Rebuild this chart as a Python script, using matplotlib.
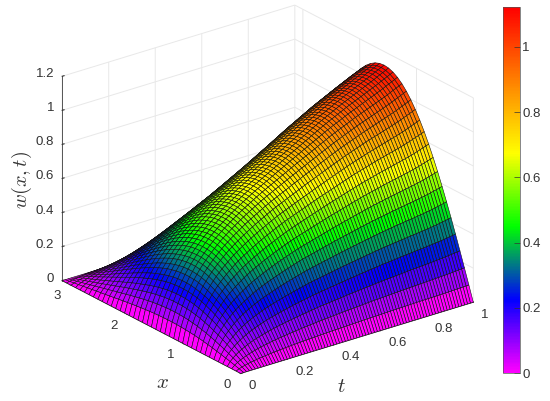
import numpy as np
import matplotlib
matplotlib.use('Agg')
import matplotlib.pyplot as plt
from matplotlib.colors import LinearSegmentedColormap, Normalize
from matplotlib.cm import ScalarMappable
from mpl_toolkits.mplot3d import proj3d

plt.rcParams['font.family'] = ['Liberation Sans', 'DejaVu Sans']
plt.rcParams['mathtext.fontset'] = 'cm'

# surface heights are estimated from the picture as two x shapes times two t curves,
# 41 mesh points from 0 to pi across x and 81 from 0 to 1 across t
x_main = [0, .0785, .1564, .2334, .3090, .3827, .4540, .5225, .5878, .6494, .7071,
          .7604, .8090, .8526, .8910, .9239, .9511, .9724, .9877, .9969, 1,
          .9969, .9877, .9724, .9511, .9239, .8910, .8526, .8090, .7604, .7071,
          .6494, .5878, .5225, .4540, .3827, .3090, .2334, .1564, .0785, 0]
x_skew = [0, .1564, .3090, .4540, .5878, .7071, .8090, .8910, .9511, .9877, 1,
          .9877, .9511, .8910, .8090, .7071, .5878, .4540, .3090, .1564, 0,
          -.1564, -.3090, -.4540, -.5878, -.7071, -.8090, -.8910, -.9511, -.9877, -1,
          -.9877, -.9511, -.8910, -.8090, -.7071, -.5878, -.4540, -.3090, -.1564, 0]
t_main = [0, .075, .125, .168, .205, .24, .27, .30, .325, .35, .372, .393, .413, .431, .449, .466,
          .482, .497, .512, .526, .54, .553, .566, .579, .591, .603, .614, .625, .636, .647,
          .658, .668, .678, .688, .698, .708, .718, .728, .738, .748, .758, .768, .778, .788,
          .798, .808, .818, .828, .838, .848, .858, .868, .878, .888, .898, .908, .918, .927,
          .936, .945, .954, .963, .972, .981, .99, .998, 1.006, 1.014, 1.022, 1.03, 1.038,
          1.046, 1.054, 1.062, 1.07, 1.078, 1.087, 1.095, 1.103, 1.111, 1.12]
t_skew = [0, .012, .022, .03, .036, .04, .044, .047, .05, .052, .054, .055, .056, .057, .058, .059,
          .06, .06, .06, .06, .06, .06, .06, .06, .06, .06, .06, .06, .06, .06, .06, .06, .06,
          .059, .058, .057, .056, .055, .054, .053, .052, .051, .05, .049, .048, .046, .045,
          .043, .042, .04, .039, .037, .036, .034, .032, .031, .029, .027, .026, .024, .022,
          .02, .019, .017, .015, .013, .012, .01, .009, .007, .006, .004, .003, .002, .001,
          0, 0, 0, 0, 0, 0]
x_ticks = [0, 1, 2, 3]
x_labels = ['0', '1', '2', '3']
t_ticks = [0, 0.2, 0.4, 0.6, 0.8, 1]
t_labels = ['0', '0.2', '0.4', '0.6', '0.8', '1']
w_ticks = [0, 0.2, 0.4, 0.6, 0.8, 1, 1.2]
w_labels = ['0', '0.2', '0.4', '0.6', '0.8', '1', '1.2']
cbar_ticks = [0, 0.2, 0.4, 0.6, 0.8, 1]
cbar_labels = ['0', '0.2', '0.4', '0.6', '0.8', '1']
w_max = 1.122
x_end = np.pi

x = np.linspace(0, x_end, len(x_main))
t = np.linspace(0, 1, len(t_main))
T, X = np.meshgrid(t, x)
W = np.outer(x_main, t_main) + np.outer(x_skew, t_skew)

cmap = LinearSegmentedColormap.from_list('mbgyr', [(0, '#ff00ff'), (.2, '#0000ff'), (.4, '#00ff00'),
                                                   (.6, '#ffff00'), (1, '#ff0000')], N=256)
norm = Normalize(0, w_max)

fig = plt.figure(figsize=(5.5, 4.01), dpi=100)
# square axes bigger than the box, 3d artists get clipped to the axes otherwise
ax = fig.add_axes([11 / 550, -45 / 401, 500 / 550, 500 / 401], projection='3d')
ax.set_proj_type('ortho')
ax.view_init(elev=23.5, azim=232.5)
ax.set_box_aspect((1, 1, .76), zoom=0.914)

ax.plot_surface(T, X, W, facecolors=cmap(norm(W)), rstride=1, cstride=1, shade=False,
                edgecolor='#101010', linewidth=0.4, antialiased=True)

ax.set_xlim(0, 1, view_margin=0)
ax.set_ylim(0, x_end, view_margin=0)
ax.set_zlim(0, 1.2, view_margin=0)
ax.set_xticks(t_ticks, [''] * len(t_ticks))
ax.set_yticks(x_ticks, [''] * len(x_ticks))
ax.set_zticks(w_ticks, [''] * len(w_ticks))
ax.tick_params(colors='#333333')

for a in (ax.xaxis, ax.yaxis, ax.zaxis):
    a.set_pane_color((1, 1, 1, 0))
    a.pane.set_edgecolor('#e6e6e6')
    a.line.set_color('#555555')
    a.line.set_linewidth(0.7)
    a._axinfo['grid'].update(color='#e8e8e8', linewidth=0.7)
    a._axinfo['tick'].update(inward_factor=0, outward_factor=0.1)

# tick labels as annotations, pad on 3d axes can't shift them sideways
def tick_text(label, px, py, pz, dx, dy, ha):
    sx, sy, _ = proj3d.proj_transform(px, py, pz, ax.get_proj())
    ax.annotate(label, (sx, sy), xytext=(dx, dy), textcoords='offset pixels', ha=ha, va='center',
                fontsize=9.5, color='#333333', annotation_clip=False)

for v, lab in zip(t_ticks, t_labels):
    tick_text(lab, v, 0, 0, 8, -12.5, 'left')
for v, lab in zip(x_ticks, x_labels):
    tick_text(lab, 0, v, 0, -13.5, -11.5, 'center')
for v, lab in zip(w_ticks, w_labels):
    tick_text(lab, 0, x_end, v, -8, 2, 'right')

fig.text(162 / 550, 1 - 383 / 401, '$x$', fontsize=15, ha='center', va='center', color='#333333')
fig.text(341 / 550, 1 - 387 / 401, '$t$', fontsize=15, ha='center', va='center', color='#333333')
fig.text(22 / 550, 1 - 180 / 401, '$w(x,t)$', fontsize=14.5, rotation=90, ha='center', va='center', color='#333333')

cax = fig.add_axes([503 / 550, 1 - 373 / 401, 17 / 550, 366 / 401])
cb = fig.colorbar(ScalarMappable(norm=norm, cmap=cmap), cax=cax, ticks=cbar_ticks)
cb.ax.set_yticklabels(cbar_labels)
cb.ax.tick_params(direction='in', length=4, width=0.5, labelsize=9.5, colors='#333333', pad=1.5)
cb.outline.set_edgecolor('#555555')
cb.outline.set_linewidth(0.5)

fig.savefig('out.png', dpi=100)
